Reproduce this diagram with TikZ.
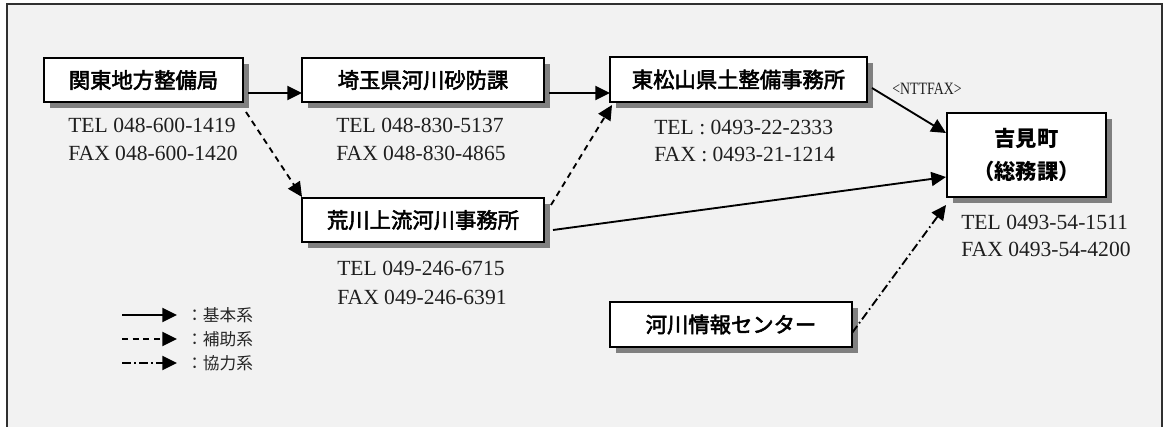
\documentclass[tikz,border=0pt]{standalone}
\usepackage{fontspec}
\setmainfont{Liberation Serif}
\newfontfamily\jp{Noto Sans CJK JP}
\newfontfamily\jpbox{Noto Sans CJK JP}[FakeBold=2.5]
\usetikzlibrary{arrows.meta,shadows,calc}
\definecolor{bggray}{HTML}{F2F2F2}
\definecolor{shadowgray}{HTML}{808080}
\definecolor{framegray}{HTML}{303030}
\tikzset{
  orgbox/.style={draw=black, line width=1.8pt, fill=white, inner sep=0pt, outer sep=0pt,
    font=\jpbox\fontsize{16pt}{19pt}\selectfont,
    drop shadow={shadow xshift=4.5pt, shadow yshift=-4.5pt, fill=shadowgray, opacity=1}},
  telnote/.style={anchor=west, inner sep=0pt, text=black!88, font=\fontsize{16.2pt}{19pt}\selectfont},
  conn/.style={line width=1.4pt, -{Triangle[length=11pt,width=10.5pt]}},
  basic/.style={conn},
  aux/.style={conn, dash pattern=on 4.5pt off 3.5pt},
  coop/.style={conn, dash pattern=on 6.5pt off 2.5pt on 1.2pt off 2.5pt},
  legendtext/.style={anchor=west, inner sep=0pt, text=black!85, font=\jp\fontsize{12.5pt}{15pt}\selectfont},
}
\begin{document}
\begin{tikzpicture}[x=0.75pt,y=-0.75pt]
\useasboundingbox (0,0) rectangle (1165,427);
\fill[white] (0,0) rectangle (1165,427);
\draw[framegray, line width=1.5pt, fill=bggray] (7,4) rectangle (1162,445);

% boxes
\node[orgbox, minimum width=149.25pt, minimum height=33pt] (kanto) at (143.5,80) {関東地方整備局};
\node[orgbox, minimum width=181.5pt, minimum height=33pt] (saitama) at (423,80) {埼玉県河川砂防課};
\node[orgbox, minimum width=192.75pt, minimum height=33.75pt] (higashi) at (738.5,79.5) {東松山県土整備事務所};
\node[orgbox, minimum width=119.25pt, minimum height=63pt, align=center,
      font=\jp\bfseries\fontsize{16pt}{24.75pt}\selectfont] (yoshimi) at (1026.5,155) {吉見町\\（総務課）};
\node[orgbox, minimum width=181.5pt, minimum height=33pt] (arakawa) at (423,220) {荒川上流河川事務所};
\node[orgbox, minimum width=181.5pt, minimum height=33.75pt] (joho) at (731,324.5) {河川情報センター};

% phone numbers
\node[telnote] (kantotel) at (68,125) {TEL 048-600-1419};
\node[telnote] (kantofax) at (68,153) {FAX 048-600-1420};
\node[telnote] (saitamatel) at (336,125) {TEL 048-830-5137};
\node[telnote] (saitamafax) at (336,153) {FAX 048-830-4865};
\node[telnote] (higashitel) at (654,127) {TEL : 0493-22-2333};
\node[telnote] (higashifax) at (654,154) {FAX : 0493-21-1214};
\node[telnote] (yoshimitel) at (961,222) {TEL 0493-54-1511};
\node[telnote] (yoshimifax) at (961,249) {FAX 0493-54-4200};
\node[telnote] (arakawatel) at (337,268) {TEL 049-246-6715};
\node[telnote] (arakawafax) at (337,297) {FAX 049-246-6391};
\node[inner sep=0pt, text=black!88, font=\fontsize{13pt}{15pt}\selectfont] (ntt) at (927,89) {\scalebox{0.8}[1]{<NTTFAX>}};

% connectors
\draw[basic] ([shift={(5,-9)}]kanto.south east) -- ([shift={(0,-9)}]saitama.south west);
\draw[basic] ([shift={(5,-9)}]saitama.south east) -- ([shift={(0,-9)}]higashi.south west);
\draw[aux] ([shift={(3,10)}]kanto.south east) -- ([shift={(0,-1)}]arakawa.north west);
\draw[aux] ([shift={(7,7)}]arakawa.north east) -- ([shift={(2,3)}]higashi.south west);
\draw[basic] ([shift={(9,-12)}]arakawa.south east) -- ([shift={(-1,-20)}]yoshimi.south west);
\draw[basic] ([shift={(5,-14)}]higashi.south east) -- ([shift={(-1,20)}]yoshimi.north west);
\draw[coop] ([shift={(0,-14)}]joho.south east) -- ([shift={(-1,8)}]yoshimi.south west);

% legend
\coordinate (la1) at (122,315); \coordinate (lb1) at (177,315);
\coordinate (la2) at (122,339); \coordinate (lb2) at (177,339);
\coordinate (la3) at (122,363); \coordinate (lb3) at (177,363);
\draw[basic] (la1) -- (lb1);
\draw[aux] (la2) -- (lb2);
\draw[coop] (la3) -- (lb3);
\node[legendtext] (lt1) at (186,315) {：基本系};
\node[legendtext] (lt2) at (186,339) {：補助系};
\node[legendtext] (lt3) at (186,363) {：協力系};
\end{tikzpicture}
\end{document}
